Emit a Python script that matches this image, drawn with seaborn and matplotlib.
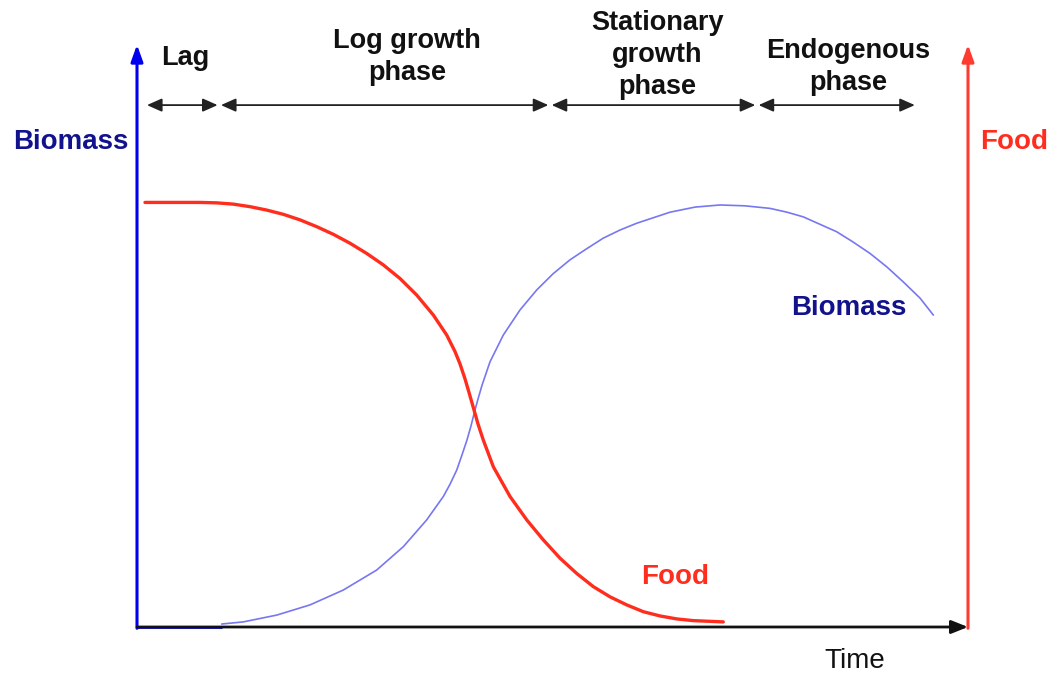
import numpy as np
import pandas as pd
import seaborn as sns
import matplotlib
matplotlib.use('Agg')
import matplotlib.pyplot as plt

# Data (time 0-100, level 0-100)
food_time = [0.96, 7.58, 9.59, 11.59, 13.60, 15.61, 17.61, 19.61, 21.62, 23.62, 25.63, 27.64,
             29.64, 31.65, 33.66, 35.66, 37.27, 38.27, 38.87, 39.47, 40.01, 40.55, 41.03,
             41.67, 42.88, 44.89, 46.90, 48.89, 50.90, 52.91, 54.91, 56.92, 58.93, 60.93,
             62.94, 64.95, 66.94, 70.55]
food_level = [99.9, 99.9, 99.8, 99.5, 98.9, 98.1, 97.1, 95.8, 94.2, 92.4, 90.3, 87.9,
              85.2, 82.0, 78.1, 73.4, 68.7, 64.8, 61.9, 58.4, 54.8, 51.1, 47.8,
              44.0, 37.7, 30.7, 25.2, 20.5, 16.2, 12.6, 9.5, 7.1, 5.2, 3.6,
              2.6, 1.9, 1.5, 1.2]

biomass_time = [10.19, 12.79, 16.81, 20.82, 24.83, 28.84, 32.05, 34.86, 36.86, 37.67, 38.47,
                39.11, 39.71, 40.19, 40.61, 41.03, 41.52, 42.48, 44.08, 46.09, 48.10, 50.06,
                52.11, 54.03, 56.11, 58.12, 60.13, 64.14, 67.15, 70.16, 73.16, 76.17, 78.22,
                80.18, 84.20, 86.16, 88.21, 90.25, 92.21, 94.22, 95.83]
biomass_level = [0.7, 1.2, 2.8, 5.2, 8.7, 13.4, 18.9, 25.2, 30.7, 33.6, 36.9,
                 40.5, 44.0, 47.3, 50.6, 53.6, 56.9, 62.4, 68.7, 74.6, 79.3, 83.1,
                 86.4, 88.9, 91.5, 93.4, 95.0, 97.6, 98.8, 99.3, 99.1, 98.5, 97.6,
                 96.5, 93.0, 90.6, 87.9, 84.7, 81.2, 77.4, 73.4]

phase_names = ['Lag', 'Log growth\nphase', 'Stationary\ngrowth\nphase', 'Endogenous\nphase']
phase_start = [1.2, 10.1, 49.9, 74.8]
phase_end = [9.7, 49.5, 74.4, 93.6]

# layout
phase_label_x = [5.8, 32.5, 62.6, 85.6]
phase_label_y = [133.9, 134.1, 134.6, 131.8]
px_per_t = 8.31
px_per_l = 4.25

BLUE_AXIS = '#0000ee'
NAVY = '#12128c'
RED = '#ff2d1e'
LIGHT_BLUE = '#7777f2'

sns.set_style('white')
plt.rcParams['font.family'] = ['Liberation Sans', 'DejaVu Sans']

fig = plt.figure(figsize=(10.57, 6.77), dpi=100)
ax = fig.add_axes([0, 0, 1, 1])
ax.set_xlim(-137 / px_per_t, 100 + (1057 - 968) / px_per_t)
ax.set_ylim(-(677 - 627) / px_per_l, 627 / px_per_l)
ax.axis('off')

df_food = pd.DataFrame({'time': food_time, 'level': food_level})
df_bio = pd.DataFrame({'time': biomass_time, 'level': biomass_level})

# Axes arrows
ax.annotate('', xy=(0, 137), xytext=(0, -0.3),
            arrowprops=dict(arrowstyle='-|>,head_length=0.5,head_width=0.18', color=BLUE_AXIS,
                            lw=2.2, mutation_scale=20, shrinkA=0, shrinkB=0))
ax.annotate('', xy=(100, 137), xytext=(100, -0.3),
            arrowprops=dict(arrowstyle='-|>,head_length=0.5,head_width=0.18', color='#ff3b30',
                            lw=2.2, mutation_scale=20, shrinkA=0, shrinkB=0))
ax.annotate('', xy=(100, 0), xytext=(0, 0),
            arrowprops=dict(arrowstyle='-|>,head_length=0.5,head_width=0.2', color='#111111',
                            lw=2.0, mutation_scale=20, shrinkA=0, shrinkB=0))
# lag part of biomass sits on the baseline
ax.plot([0, 10.2], [0, 0], color=BLUE_AXIS, lw=2.0, solid_capstyle='butt')

# Curves
sns.lineplot(data=df_bio, x='time', y='level', ax=ax, color=LIGHT_BLUE, lw=1.2, sort=False)
sns.lineplot(data=df_food, x='time', y='level', ax=ax, color=RED, lw=2.4, sort=False)
ax.set_xlabel('')
ax.set_ylabel('')

# Phase arrows and labels
for name, s, e, lx, ly in zip(phase_names, phase_start, phase_end, phase_label_x, phase_label_y):
    ax.annotate('', xy=(e, 122.8), xytext=(s, 122.8),
                arrowprops=dict(arrowstyle='<|-|>,head_length=0.45,head_width=0.2', color='#222222',
                                lw=1.3, mutation_scale=20, shrinkA=0, shrinkB=0))
    ax.text(lx, ly, name, ha='center', va='center', fontsize=19.5, fontweight='bold',
            color='#111111', linespacing=1.32)

# Text labels
ax.text(-8.0, 114.1, 'Biomass', ha='center', va='center', fontsize=20, fontweight='bold', color=NAVY)
ax.text(105.5, 114.1, 'Food', ha='center', va='center', fontsize=20, fontweight='bold', color=RED)
ax.text(85.6, 75.1, 'Biomass', ha='center', va='center', fontsize=20, fontweight='bold', color=NAVY)
ax.text(64.7, 11.8, 'Food', ha='center', va='center', fontsize=20, fontweight='bold', color=RED)
ax.text(86.4, -8.0, 'Time', ha='center', va='center', fontsize=20, color='#111111')

fig.savefig('out.png', dpi=100)
